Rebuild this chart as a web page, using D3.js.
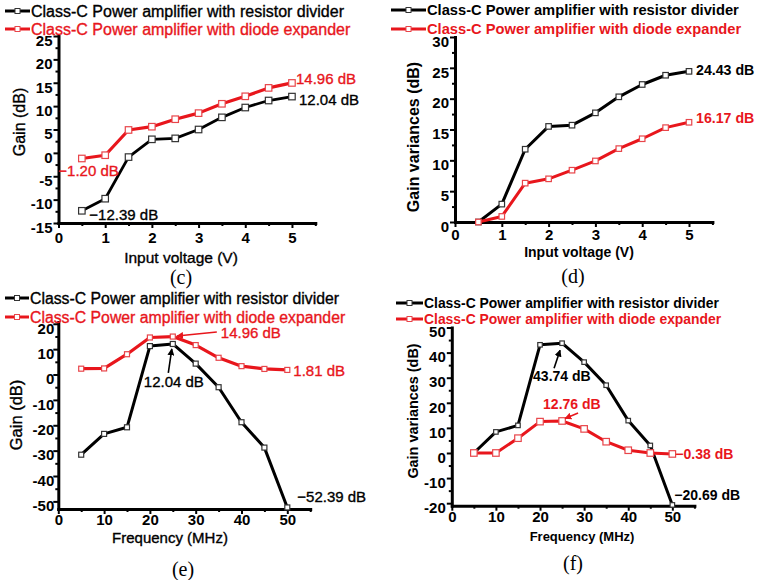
<!DOCTYPE html>
<html><head><meta charset="utf-8">
<script src="https://cdn.jsdelivr.net/npm/d3@7"></script>
<style>
body{margin:0;background:#fff}
svg{display:block}
text{font-family:'Liberation Sans',Arial,Helvetica,sans-serif}
</style>
</head><body>
<svg id="chart" width="762" height="580"></svg>
<script>
// ---------- data ----------
const seriesNames = ["Class-C Power amplifier with resistor divider", "Class-C Power amplifier with diode expander"];
const voltage = [0.5, 1, 1.5, 2, 2.5, 3, 3.5, 4, 4.5, 5];
const gainResistorV = [-12.39, -9.8, -0.9, 2.9, 3.1, 5.0, 7.6, 9.7, 11.2, 12.04];
const gainDiodeV    = [-1.20, -0.5, 4.9, 5.6, 7.2, 8.5, 10.5, 12.1, 13.9, 14.96];
const varResistorV  = [0, 2.9, 11.8, 15.5, 15.7, 17.7, 20.3, 22.3, 23.8, 24.43];
const varDiodeV     = [0, 0.9, 6.3, 7.0, 8.4, 9.9, 11.9, 13.5, 15.3, 16.17];
const frequency = [5, 10, 15, 20, 25, 30, 35, 40, 45, 50];
const gainResistorF = [-31.6, -23.4, -20.8, 11.2, 12.04, 4.3, -5.0, -18.8, -28.8, -52.39];
const gainDiodeF    = [2.3, 2.4, 8.0, 14.6, 14.96, 11.6, 6.6, 3.3, 2.2, 1.81];
const varResistorF  = [0, 8.4, 11.0, 43.1, 43.74, 36.2, 27.0, 12.9, 3.0, -20.69];
const varDiodeF     = [0, 0, 5.9, 12.5, 12.76, 9.6, 4.5, 1.1, 0, -0.38];
const voltTicks = [0, 1, 2, 3, 4, 5];
const gainVTicks = [-15, -10, -5, 0, 5, 10, 15, 20, 25];
const varVTicks = [0, 5, 10, 15, 20, 25, 30];
const freqTicks = [0, 10, 20, 30, 40, 50];
const gainFTicks = [-50, -40, -30, -20, -10, 0, 10, 20];
const varFTicks = [-20, -10, 0, 10, 20, 30, 40, 50];

// ---------- drawing ----------
const RED = "#e8161c", BLACK = "#000";
const svg = d3.select("#chart");
const defs = svg.append("defs");
[["arrRed", RED], ["arrBlack", BLACK]].forEach(([id, c]) => {
  defs.append("marker").attr("id", id).attr("viewBox", "0 0 10 10").attr("refX", 9).attr("refY", 5)
    .attr("markerWidth", 7).attr("markerHeight", 7).attr("markerUnits", "userSpaceOnUse").attr("orient", "auto")
    .append("path").attr("d", "M0,0L10,5L0,10z").attr("fill", c);
});
const fmt = d => String(d);

function midTicks(ticks, domain) {
  const step = ticks[1] - ticks[0];
  const out = [];
  for (let v = ticks[0] - step / 2; v <= domain[1] + 1e-9; v += step / 2) {
    if (v >= domain[0] - 1e-9 && !ticks.some(t => Math.abs(t - v) < 1e-9)) out.push(v);
  }
  return out;
}

// regular-weight texts in the reference look a little heavy: add a hairline stroke
function weight(sel, bold, col) {
  sel.style("font-weight", bold ? "bold" : "normal");
  if (!bold) sel.attr("stroke", col).attr("stroke-width", 0.35);
  return sel;
}

function panel(cfg) {
  const g = svg.append("g");
  const x = d3.scaleLinear().domain(cfg.xDomain).range(cfg.xRange);
  const y = d3.scaleLinear().domain(cfg.yDomain).range(cfg.yRange);

  // minor ticks
  g.append("g").attr("transform", `translate(0,${cfg.yRange[0]})`)
    .call(d3.axisBottom(x).tickValues(midTicks(cfg.xTicks, cfg.xDomain)).tickSize(3).tickSizeOuter(0).tickFormat(""))
    .call(a => a.select(".domain").remove())
    .call(a => a.selectAll("line").attr("stroke-width", 2));
  g.append("g").attr("transform", `translate(${cfg.xRange[0]},0)`)
    .call(d3.axisLeft(y).tickValues(midTicks(cfg.yTicks, cfg.yDomain)).tickSize(3).tickSizeOuter(0).tickFormat(""))
    .call(a => a.select(".domain").remove())
    .call(a => a.selectAll("line").attr("stroke-width", 2));

  // major axes
  const xa = g.append("g").attr("transform", `translate(0,${cfg.yRange[0]})`)
    .call(d3.axisBottom(x).tickValues(cfg.xTicks).tickSize(5).tickSizeOuter(0).tickFormat(fmt));
  xa.selectAll("text").attr("y", cfg.xLabOff).attr("dy", 0)
    .style("font-size", "15px").style("font-weight", "bold").attr("fill", BLACK)
    .style("font-family", "'Liberation Sans',Arial,sans-serif");
  const ya = g.append("g").attr("transform", `translate(${cfg.xRange[0]},0)`)
    .call(d3.axisLeft(y).tickValues(cfg.yTicks).tickSize(5).tickSizeOuter(0).tickFormat(fmt));
  ya.selectAll("text").attr("x", -cfg.yLabGap).attr("y", 4).attr("dy", "0.35em")
    .style("font-size", "15px").style("font-weight", "bold").attr("fill", BLACK)
    .style("font-family", "'Liberation Sans',Arial,sans-serif");
  [xa, ya].forEach(a => {
    a.select(".domain").attr("stroke", BLACK).attr("stroke-width", 3).attr("stroke-linecap", "square");
    a.selectAll(".tick line").attr("stroke-width", 2);
  });

  // series
  const colors = [BLACK, RED];
  const markStroke = ["#333", "#e8454a"];
  cfg.series.forEach((vals, si) => {
    const pts = cfg.xs.map((xv, i) => [xv, vals[i]]);
    g.append("path").datum(pts)
      .attr("d", d3.line().x(d => x(d[0])).y(d => y(d[1])))
      .attr("fill", "none").attr("stroke", colors[si]).attr("stroke-width", cfg.lineW[si])
      .attr("stroke-linejoin", "round");
    const s = cfg.markSize[si];
    g.selectAll(null).data(pts).enter().append("rect")
      .attr("x", d => x(d[0]) - s / 2).attr("y", d => y(d[1]) - s / 2)
      .attr("width", s).attr("height", s)
      .attr("fill", "#fff").attr("stroke", markStroke[si]).attr("stroke-width", 1.2);
  });

  // annotations
  cfg.ann.forEach(a => {
    const px = x(cfg.xs[a.i]), py = y(cfg.series[a.s][a.i]);
    const col = a.s === 1 ? RED : BLACK;
    if (a.arrow) {
      g.append("line").attr("x1", px + a.arrow[0]).attr("y1", py + a.arrow[1])
        .attr("x2", px + a.arrow[2]).attr("y2", py + a.arrow[3])
        .attr("stroke", col).attr("stroke-width", 1.6)
        .attr("marker-end", `url(#${a.s === 1 ? "arrRed" : "arrBlack"})`);
    }
    weight(g.append("text").attr("x", px + a.dx).attr("y", py + a.dy).attr("dy", "0.36em")
      .attr("fill", col).style("font-size", cfg.annSize + "px"), cfg.bold, col)
      .text(a.text);
  });

  // legend
  seriesNames.forEach((name, si) => {
    const ly = cfg.legY[si], [l0, l1] = cfg.legX;
    const col = si === 0 ? BLACK : RED;
    g.append("line").attr("x1", l0).attr("x2", l1).attr("y1", ly).attr("y2", ly)
      .attr("stroke", col).attr("stroke-width", 3);
    const s = 5;
    g.append("rect").attr("x", (l0 + l1) / 2 - s / 2).attr("y", ly - s / 2).attr("width", s).attr("height", s)
      .attr("fill", "#fff").attr("stroke", si === 0 ? "#333" : "#e8454a").attr("stroke-width", 1);
    weight(g.append("text").attr("x", l1 + 1).attr("y", ly).attr("dy", "0.36em")
      .attr("fill", col).style("font-size", cfg.legSize + "px"), cfg.bold, col)
      .text(name);
  });

  // axis titles
  weight(g.append("text").attr("x", cfg.xTitle[0]).attr("y", cfg.xTitle[1]).attr("text-anchor", "middle")
    .style("font-size", cfg.xTitle[2] + "px").attr("fill", BLACK), cfg.bold, BLACK).text(cfg.xTitle[3]);
  weight(g.append("text").attr("transform", `translate(${cfg.yTitle[0]},${cfg.yTitle[1]}) rotate(-90)`)
    .attr("text-anchor", "middle").attr("dy", "0.36em")
    .style("font-size", cfg.yTitle[2] + "px").attr("fill", BLACK), cfg.bold, BLACK).text(cfg.yTitle[3]);
  // caption
  g.append("text").attr("x", cfg.cap[0]).attr("y", cfg.cap[1]).attr("text-anchor", "middle")
    .style("font-family", "'Liberation Serif','Times New Roman',serif").style("font-size", "20px")
    .attr("fill", BLACK).text(cfg.cap[2]);
}

panel({
  xs: voltage, series: [gainResistorV, gainDiodeV],
  xDomain: [0, 5.5], xRange: [58.5, 315.3], yDomain: [-15, 25], yRange: [223, 36],
  xTicks: voltTicks, yTicks: gainVTicks, xLabOff: 20, yLabGap: 6, bold: false,
  lineW: [2.8, 3.2], markSize: [6.5, 6.5],
  ann: [
    {s: 1, i: 9, text: "14.96 dB", dx: 4, dy: -4},
    {s: 0, i: 9, text: "12.04 dB", dx: 7, dy: 3},
    {s: 1, i: 0, text: "\u22121.20 dB", dx: -23.5, dy: 12},
    {s: 0, i: 0, text: "\u221212.39 dB", dx: 7.5, dy: 4}
  ], annSize: 15,
  legX: [5, 30], legY: [11, 29], legSize: 16,
  xTitle: [181, 263, 15.5, "Input voltage (V)"], yTitle: [19, 122, 16, "Gain (dB)"],
  cap: [181, 284, "(c)"]
});

panel({
  xs: voltage, series: [varResistorV, varDiodeV],
  xDomain: [0, 5.5], xRange: [455, 712.4], yDomain: [0, 30], yRange: [222, 37],
  xTicks: voltTicks, yTicks: varVTicks, xLabOff: 18, yLabGap: 6, bold: true,
  lineW: [3, 3], markSize: [5.5, 5.5],
  ann: [
    {s: 0, i: 9, text: "24.43 dB", dx: 7, dy: -1},
    {s: 1, i: 9, text: "16.17 dB", dx: 7, dy: -4}
  ], annSize: 14.2,
  legX: [391, 426], legY: [10, 29], legSize: 14.7,
  xTitle: [579, 257, 14, "Input voltage (V)"], yTitle: [413, 137, 16, "Gain variances (dB)"],
  cap: [573, 283, "(d)"]
});

panel({
  xs: frequency, series: [gainResistorF, gainDiodeF],
  xDomain: [0, 55], xRange: [58.3, 310.2], yDomain: [-53, 20.7], yRange: [509, 322],
  xTicks: freqTicks, yTicks: gainFTicks, xLabOff: 16, yLabGap: 4, bold: false,
  lineW: [3, 3.2], markSize: [5, 5],
  ann: [
    {s: 1, i: 4, text: "14.96 dB", dx: 48, dy: -3.5, arrow: [44, -4.5, 4, -0.5]},
    {s: 0, i: 4, text: "12.04 dB", dx: -29, dy: 38, arrow: [-4.5, 29, -1, 5]},
    {s: 1, i: 9, text: "1.81 dB", dx: 6, dy: 1},
    {s: 0, i: 9, text: "\u221252.39 dB", dx: 10, dy: -10.5}
  ], annSize: 15,
  legX: [5, 29], legY: [298, 317], legSize: 15.8,
  xTitle: [170, 543, 15, "Frequency (MHz)"], yTitle: [16, 415, 16.5, "Gain (dB)"],
  cap: [183, 576, "(e)"]
});

panel({
  xs: frequency, series: [varResistorF, varDiodeF],
  xDomain: [0, 55], xRange: [451.8, 694.4], yDomain: [-21, 50], yRange: [505.7, 327.5],
  xTicks: freqTicks, yTicks: varFTicks, xLabOff: 16, yLabGap: 6, bold: true,
  lineW: [3, 3], markSize: [4.5, 6.5],
  ann: [
    {s: 0, i: 4, text: "43.74 dB", dx: -29, dy: 33, arrow: [-8, 25, -2, 7]},
    {s: 1, i: 4, text: "12.76 dB", dx: -19, dy: -17, arrow: [16, -8, 3, -2.5]},
    {s: 1, i: 9, text: "\u22120.38 dB", dx: 3, dy: 0},
    {s: 0, i: 9, text: "\u221220.69 dB", dx: 2, dy: -10}
  ], annSize: 14,
  legX: [396, 423], legY: [303, 319], legSize: 13.9,
  xTitle: [582, 541, 13, "Frequency (MHz)"], yTitle: [413, 411, 14.4, "Gain variances (dB)"],
  cap: [573, 570, "(f)"]
});
</script>
</body></html>
